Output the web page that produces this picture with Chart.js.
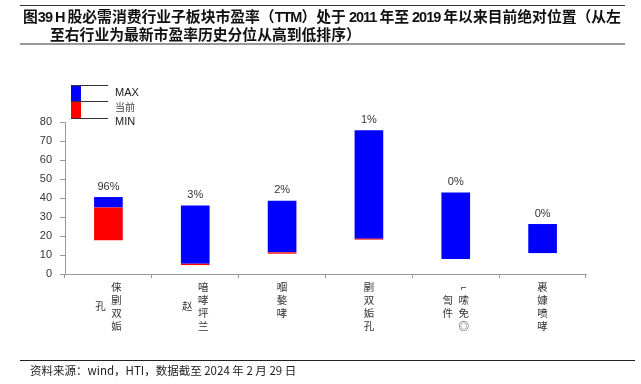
<!DOCTYPE html>
<html lang="zh">
<head>
    <meta charset="UTF-8">
    <title>H股必需消费行业子板块市盈率</title>
    <style>
        html, body {
            margin: 0;
            padding: 0;
            background: #fff;
        }
        .page {
            position: relative;
            width: 641px;
            height: 384px;
            overflow: hidden;
        }
        #chart {
            position: absolute;
            left: 0;
            top: 0;
        }
        .title {
            position: absolute;
            left: 20px;
            top: 5px;
            width: 605px;
            height: 37px;
            border-top: 1px solid #333;
            border-bottom: 2px solid #999;
            font-family: "Noto Sans CJK SC", sans-serif;
            font-weight: bold;
            font-size: 14.8px;
            line-height: 18px;
            color: #111;
        }
        .title .l1 { position: absolute; left: 3px; top: 1px; white-space: nowrap; }
        .title .l2 { position: absolute; left: 30px; top: 19px; white-space: nowrap; }
        .title .lat {
            font-family: "Liberation Sans Narrow", "Liberation Sans", sans-serif;
            font-size: 14.5px;
            letter-spacing: -1px;
        }
        .source {
            position: absolute;
            left: 20px;
            top: 360px;
            width: 605px;
            border-top: 1px solid #222;
            padding-left: 10px;
            font-family: "Noto Sans CJK SC", sans-serif;
            font-size: 11.5px;
            line-height: 18px;
            color: #222;
        }
    </style>
    <script src="https://cdn.jsdelivr.net/npm/chart.js"></script>
</head>
<body>
<div class="page">
    <canvas id="chart" width="641" height="384"></canvas>
    <div class="title">
        <span class="l1">图<span class="lat">39 H </span>股必需消费行业子板块市盈率（<span class="lat">TTM</span>）处于<span class="lat"> 2011 </span>年至<span class="lat"> 2019 </span>年以来目前绝对位置（从左</span>
        <span class="l2">至右行业为最新市盈率历史分位从高到低排序）</span>
    </div>
    <div class="source">资料来源：wind，HTI，数据截至 2024 年 2 月 29 日</div>
</div>

<script>
    // category names, each one a list of vertical columns (right column first)
    const categories = [
        ['俫剭双姤', '孔'],
        ['喑哮坪兰', '赵'],
        ['嗰嫯哮'],
        ['剭双姤孔'],
        ['⌐嗦免◎', '訇件'],
        ['裹嫝喷哮']
    ];
    const minPE = [17.7, 4.7, 10.7, 18.1, 7.9, 11.0];
    const curPE = [35.0, 5.4, 11.4, 18.6, 7.9, 11.0];
    const maxPE = [40.5, 36.1, 38.6, 75.6, 42.9, 26.3];
    const percentiles = ['96%', '3%', '2%', '1%', '0%', '0%'];
    const yTicks = [0, 10, 20, 30, 40, 50, 60, 70, 80];

    // min -> current is red, current -> max is blue
    const lowerRange = minPE.map((v, i) => [v, curPE[i]]);
    const upperRange = curPE.map((v, i) => [v, maxPE[i]]);

    // percentile text on top of each bar + vertical category names
    const barLabels = {
        id: 'barLabels',
        afterDatasetsDraw(chart) {
            const ctx = chart.ctx;
            const meta = chart.getDatasetMeta(1);
            ctx.save();
            ctx.fillStyle = '#333';
            ctx.font = '11px Arial, "Liberation Sans", sans-serif';
            ctx.textAlign = 'center';
            ctx.textBaseline = 'bottom';
            meta.data.forEach((bar, i) => {
                ctx.fillText(percentiles[i], bar.x, bar.y - 5);
            });

            // category names drawn as stacked characters
            const xScale = chart.scales.x;
            ctx.font = '10.5px "Noto Sans CJK SC", sans-serif';
            ctx.textBaseline = 'middle';
            ctx.fillStyle = '#333';
            const rowH = 13;
            const firstRow = 287;
            categories.forEach((cols, i) => {
                const cx = xScale.getPixelForValue(i);
                const mainLen = cols[0].length;
                cols.forEach((col, c) => {
                    const x = cols.length > 1 ? cx + (c === 0 ? 8 : -8) : cx;
                    const offset = (mainLen - col.length) * rowH / 2;
                    Array.from(col).forEach((ch, k) => {
                        ctx.fillText(ch, x, firstRow + offset + k * rowH);
                    });
                });
            });
            ctx.restore();
        }
    };

    // MAX / 当前 / MIN key in the top left corner
    const keyBox = {
        id: 'keyBox',
        afterDraw(chart) {
            const ctx = chart.ctx;
            ctx.save();
            ctx.fillStyle = '#0000ff';
            ctx.fillRect(71, 85, 10, 16.5);
            ctx.fillStyle = '#ff0000';
            ctx.fillRect(71, 101.5, 10, 17.5);
            ctx.strokeStyle = '#333';
            ctx.lineWidth = 1;
            [85.5, 101.5, 118.5].forEach(y => {
                ctx.beginPath();
                ctx.moveTo(71, y);
                ctx.lineTo(108, y);
                ctx.stroke();
            });
            ctx.fillStyle = '#222';
            ctx.textBaseline = 'middle';
            ctx.font = '11px Arial, "Liberation Sans", sans-serif';
            ctx.fillText('MAX', 115, 93);
            ctx.fillText('MIN', 115, 121.5);
            ctx.font = '10px "Noto Sans CJK SC", sans-serif';
            ctx.fillStyle = '#444';
            ctx.fillText('当前', 115, 107.5);
            ctx.restore();
        }
    };

    new Chart(document.getElementById('chart'), {
        type: 'bar',
        data: {
            labels: categories.map(c => c.join('')),
            datasets: [
                {
                    label: '当前',
                    data: lowerRange,
                    backgroundColor: '#ff0000',
                    grouped: false,
                    borderSkipped: false
                },
                {
                    label: 'MAX',
                    data: upperRange,
                    backgroundColor: '#0000ff',
                    grouped: false,
                    borderSkipped: false
                }
            ]
        },
        options: {
            responsive: false,
            animation: false,
            layout: { padding: { left: 0, right: 55, top: 122, bottom: 100 } },
            datasets: {
                bar: { barPercentage: 0.33, categoryPercentage: 1 }
            },
            plugins: {
                legend: { display: false },
                tooltip: { enabled: false }
            },
            scales: {
                x: {
                    grid: {
                        drawOnChartArea: false,
                        offset: true,
                        tickLength: 4,
                        color: '#999'
                    },
                    border: { color: '#999' },
                    ticks: { display: false },
                    afterFit(scale) { scale.height = 10; }
                },
                y: {
                    min: 0,
                    max: 80,
                    afterBuildTicks(scale) {
                        scale.ticks = yTicks.map(v => ({ value: v }));
                    },
                    grid: {
                        drawOnChartArea: false,
                        tickLength: 5,
                        color: '#999'
                    },
                    border: { color: '#999' },
                    ticks: {
                        padding: 8,
                        color: '#333',
                        font: { family: 'Arial, "Liberation Sans", sans-serif', size: 11 }
                    },
                    afterFit(scale) { scale.width = 65; }
                }
            }
        },
        plugins: [barLabels, keyBox]
    });
</script>
</body>
</html>
